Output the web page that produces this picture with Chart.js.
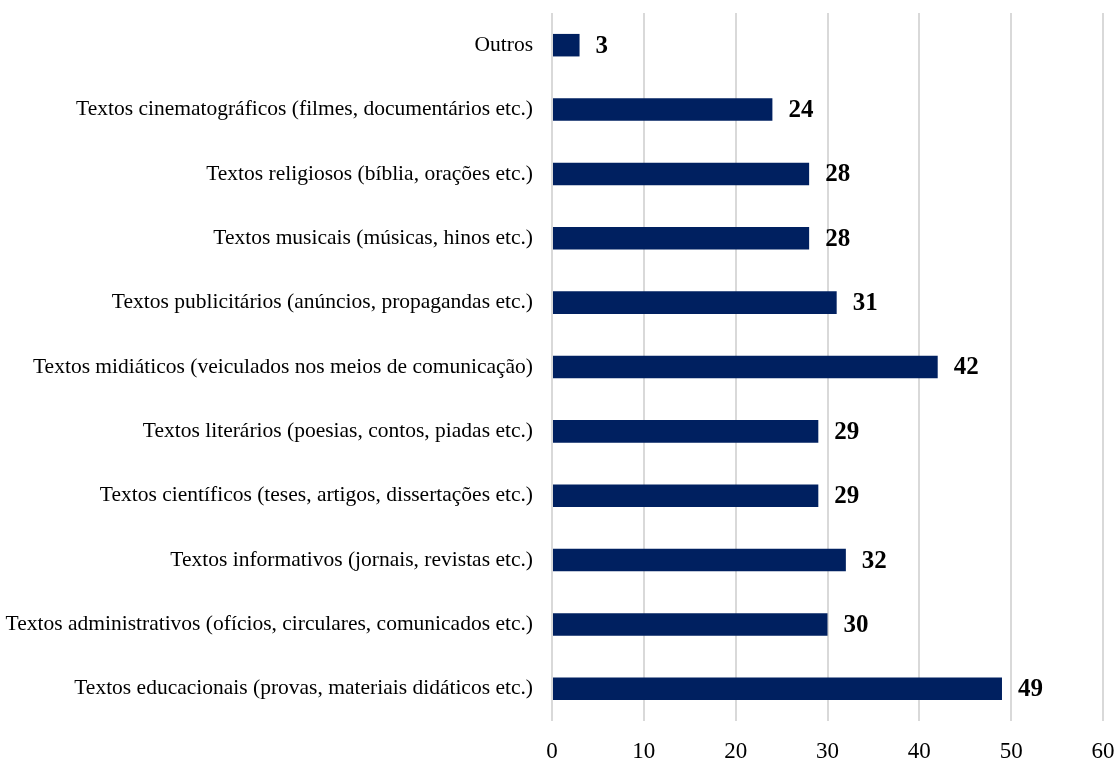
<!DOCTYPE html>
<html>
<head>
<meta charset="utf-8">
<script src="https://cdn.jsdelivr.net/npm/chart.js@4/dist/chart.umd.min.js"></script>
<style>
  html, body { margin: 0; padding: 0; background: #fff; }
  #wrap { width: 1117px; height: 758px; }
</style>
</head>
<body>
<div id="wrap"><canvas id="myChart"></canvas></div>
<script>
var categories = [
  'Outros',
  'Textos cinematográficos (filmes, documentários etc.)',
  'Textos religiosos (bíblia, orações etc.)',
  'Textos musicais (músicas, hinos etc.)',
  'Textos publicitários (anúncios, propagandas etc.)',
  'Textos midiáticos (veiculados nos meios de comunicação)',
  'Textos literários (poesias, contos, piadas etc.)',
  'Textos científicos (teses, artigos, dissertações etc.)',
  'Textos informativos (jornais, revistas etc.)',
  'Textos administrativos (ofícios, circulares, comunicados etc.)',
  'Textos educacionais (provas, materiais didáticos etc.)'
];
var counts = [3, 24, 28, 28, 31, 42, 29, 29, 32, 30, 49];
var xTicks = [0, 10, 20, 30, 40, 50, 60];

// numbers printed to the right of each bar
var valueLabels = {
  id: 'valueLabels',
  afterDatasetsDraw: function(chart) {
    var ctx = chart.ctx;
    var meta = chart.getDatasetMeta(0);
    ctx.save();
    ctx.font = 'bold 25px "Liberation Serif", "Times New Roman", serif';
    ctx.fillStyle = '#000';
    ctx.textAlign = 'left';
    ctx.textBaseline = 'middle';
    meta.data.forEach(function(bar, i) {
      ctx.fillText(String(counts[i]), bar.x + 16, bar.y + 1);
    });
    ctx.restore();
  }
};

var ctx = document.getElementById('myChart').getContext('2d');
var myChart = new Chart(ctx, {
  type: 'bar',
  data: {
    labels: categories,
    datasets: [{
      data: counts,
      backgroundColor: '#002060',
      borderWidth: 0,
      barPercentage: 0.35,
      categoryPercentage: 1
    }]
  },
  options: {
    indexAxis: 'y',
    responsive: true,
    maintainAspectRatio: false,
    animation: false,
    layout: { padding: 0 },
    plugins: {
      legend: { display: false },
      tooltip: { enabled: false }
    },
    scales: {
      x: {
        min: 0,
        max: 60,
        afterBuildTicks: function(scale) {
          scale.ticks = xTicks.map(function(v) { return { value: v }; });
        },
        afterFit: function(scale) {
          scale.height = 37;
          scale.paddingRight = 14;
        },
        grid: { color: '#d9d9d9', lineWidth: 2, drawTicks: false },
        border: { display: false },
        ticks: {
          color: '#000',
          padding: 17,
          font: { family: '"Liberation Serif", "Times New Roman", serif', size: 23 }
        }
      },
      y: {
        afterFit: function(scale) {
          scale.width = 552;
          scale.paddingTop = 13;
          scale.paddingBottom = 0;
        },
        grid: { display: false },
        border: { display: false },
        ticks: {
          color: '#000',
          padding: 11,
          font: { family: '"Liberation Serif", "Times New Roman", serif', size: 21.5 }
        }
      }
    }
  },
  plugins: [valueLabels]
});
</script>
</body>
</html>
